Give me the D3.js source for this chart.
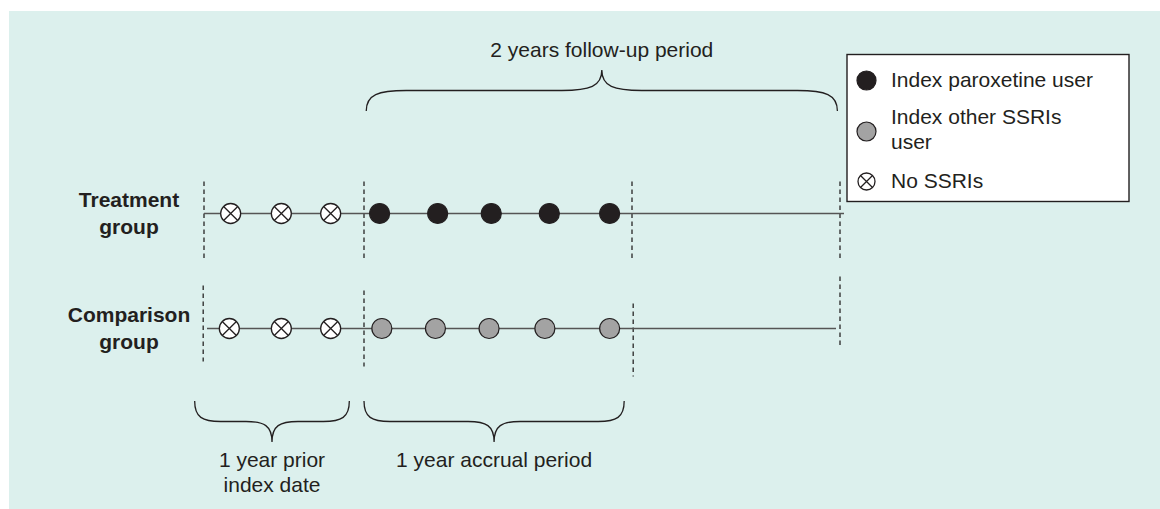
<!DOCTYPE html>
<html><head><meta charset="utf-8">
<script src="https://cdn.jsdelivr.net/npm/d3@7"></script>
<style>
html,body{margin:0;padding:0;background:#fff;}
svg text{font-family:"Liberation Sans",Arial,Helvetica,sans-serif;fill:#231f20;}
</style></head>
<body>
<svg id="chart" width="1160" height="509"></svg>
<script>
// ---- data (time in months relative to index date) ----
const groups = ["Treatment group", "Comparison group"];
const groupLabels = [["Treatment", "group"], ["Comparison", "group"]];
const periodBoundaries = [-12, 0, 12, 24];
const priorEvents = [[-10.0, -6.2, -2.5], [-10.1, -6.2, -2.5]];
const indexEvents = [[0.7, 3.3, 5.7, 8.3, 11.0], [0.8, 3.2, 5.6, 8.1, 11.0]];
const indexTypes = ["paroxetine", "other"];
const legendItems = [
  {type: "paroxetine", lines: ["Index paroxetine user"]},
  {type: "other", lines: ["Index other SSRIs", "user"]},
  {type: "none", lines: ["No SSRIs"]}
];
const braces = [
  {from: 0.1, to: 23.85, side: "top", lines: ["2 years follow-up period"]},
  {from: -12.7, to: -1.1, side: "bottom", lines: ["1 year prior", "index date"]},
  {from: 0, to: 11.65, side: "bottom", lines: ["1 year accrual period"]}
];

// ---- layout ----
const svg = d3.select("#chart");
const x = d3.scaleLinear().domain(periodBoundaries).range([204, 364, 632, 840]);
const y = d3.scalePoint().domain(groups).range([213.5, 328.5]);
const fillColor = {paroxetine: "#231f20", other: "#a3a3a3"};
const strokeColor = "#231f20";
const FS = 21;

svg.append("rect").attr("x", 9).attr("y", 11).attr("width", 1151).attr("height", 498).attr("fill", "#dcf0ed");

// dashed boundary extents per group (offsets from the group's line)
const dashExt = [
  [[-32, 45], [-32, 45], [-32, 45], [-32, 45]],
  [[-43, 33], [-38, 38], [-25, 48], [-52, 19]]
];
const dashShift = [[0, 0, 0, 0], [-0.8, 0, 1.2, 0]];
const lineEnd = [x(24) + 4, x(24) - 4];
const lineStart = [x(-12), x(-12) + 3];

function drawCross(sel, cx, cy, r) {
  const g = sel.append("g");
  g.append("circle").attr("cx", cx).attr("cy", cy).attr("r", r).attr("fill", "#fff")
    .attr("stroke", strokeColor).attr("stroke-width", 1.3);
  const d = r * Math.SQRT1_2;
  g.append("path").attr("d", `M${cx - d},${cy - d}L${cx + d},${cy + d}M${cx - d},${cy + d}L${cx + d},${cy - d}`)
    .attr("stroke", strokeColor).attr("stroke-width", 1.3);
}

groups.forEach((g, gi) => {
  const cy = y(g);
  const grp = svg.append("g");
  periodBoundaries.forEach((b, bi) => {
    grp.append("line")
      .attr("x1", x(b) + dashShift[gi][bi]).attr("x2", x(b) + dashShift[gi][bi])
      .attr("y1", cy + dashExt[gi][bi][0]).attr("y2", cy + dashExt[gi][bi][1])
      .attr("stroke", "#333").attr("stroke-width", 1.4).attr("stroke-dasharray", "4.5,3.5");
  });
  grp.append("line").attr("x1", lineStart[gi]).attr("x2", lineEnd[gi])
    .attr("y1", cy).attr("y2", cy).attr("stroke", "#555").attr("stroke-width", 1.6);
  priorEvents[gi].forEach(t => drawCross(grp, x(t), cy, 10));
  indexEvents[gi].forEach(t => {
    grp.append("circle").attr("cx", x(t)).attr("cy", cy).attr("r", 10)
      .attr("fill", fillColor[indexTypes[gi]]).attr("stroke", strokeColor).attr("stroke-width", 1.2);
  });
  const lab = svg.append("text").attr("text-anchor", "middle").attr("font-weight", "bold").attr("font-size", FS);
  groupLabels[gi].forEach((l, li) => {
    lab.append("tspan").attr("x", 129).attr("y", cy - 6.3 + li * 27).text(l);
  });
});

// ---- braces ----
function bracePath(x1, x2, yEnd, yMid, yTip, r) {
  const xm = (x1 + x2) / 2;
  return `M${x1},${yEnd}C${x1},${yMid + (yEnd - yMid) * 0.2} ${x1 + r * 0.3},${yMid} ${x1 + r},${yMid}` +
    `L${xm - r},${yMid}C${xm - r * 0.3},${yMid} ${xm},${yMid + (yTip - yMid) * 0.2} ${xm},${yTip}` +
    `C${xm},${yMid + (yTip - yMid) * 0.2} ${xm + r * 0.3},${yMid} ${xm + r},${yMid}` +
    `L${x2 - r},${yMid}C${x2 - r * 0.3},${yMid} ${x2},${yMid + (yEnd - yMid) * 0.2} ${x2},${yEnd}`;
}
braces.forEach(b => {
  const x1 = x(b.from), x2 = x(b.to);
  const xm = (x1 + x2) / 2;
  if (b.side === "top") {
    svg.append("path").attr("d", bracePath(x1, x2, 111, 90.5, 70, 40))
      .attr("fill", "none").attr("stroke", "#231f20").attr("stroke-width", 1.3);
    svg.append("text").attr("x", xm).attr("y", 57).attr("text-anchor", "middle").attr("font-size", FS).text(b.lines[0]);
  } else {
    svg.append("path").attr("d", bracePath(x1, x2, 401, 421.5, 442, 26))
      .attr("fill", "none").attr("stroke", "#231f20").attr("stroke-width", 1.3);
    const t = svg.append("text").attr("text-anchor", "middle").attr("font-size", FS);
    b.lines.forEach((l, li) => t.append("tspan").attr("x", xm).attr("y", 467 + li * 25).text(l));
  }
});

// ---- legend ----
const leg = svg.append("g");
leg.append("rect").attr("x", 847).attr("y", 54.5).attr("width", 282).attr("height", 147)
  .attr("fill", "#fff").attr("stroke", "#231f20").attr("stroke-width", 1.4);
const legY = [80.5, 131.5, 181.5];
legendItems.forEach((it, i) => {
  const cy = legY[i];
  if (it.type === "none") drawCross(leg, 866.5, cy, 8.5);
  else leg.append("circle").attr("cx", 866.5).attr("cy", cy).attr("r", 9.5)
    .attr("fill", fillColor[it.type]).attr("stroke", strokeColor).attr("stroke-width", 1.2);
  const t = leg.append("text").attr("font-size", FS);
  const y0 = it.lines.length === 1 ? cy + 6.5 : cy - 7.5;
  it.lines.forEach((l, li) => t.append("tspan").attr("x", 891).attr("y", y0 + li * 25).text(l));
});
</script>
</body></html>
